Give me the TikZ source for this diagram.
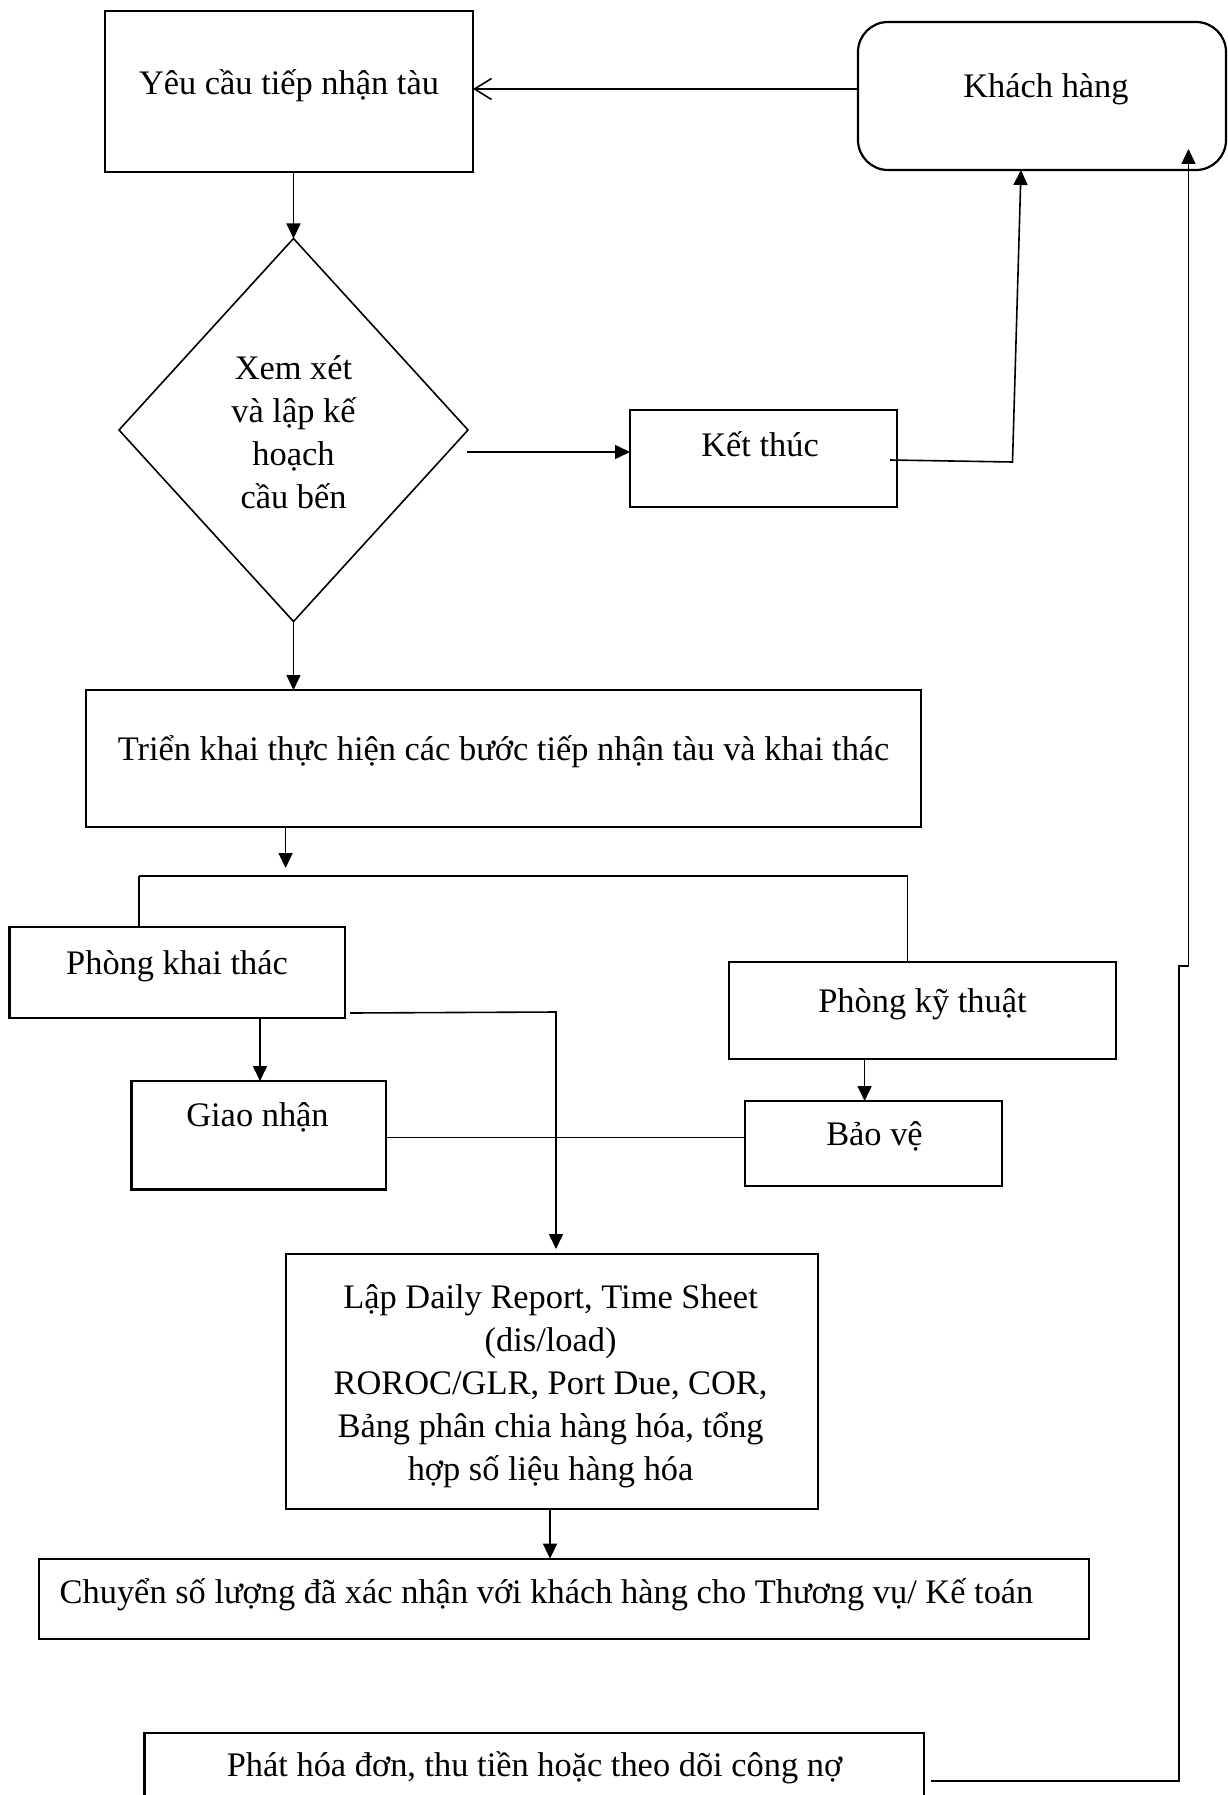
\documentclass[tikz,border=0pt]{standalone}
\usepackage{fontspec}
\setmainfont{Liberation Serif}
\usetikzlibrary{arrows.meta,shapes.geometric,calc}
\begin{document}
\begin{tikzpicture}[x=1pt,y=-1pt,
  every node/.style={font=\fontsize{34.4}{43}\selectfont},
  box/.style={draw,line width=2.2pt,inner sep=0pt,outer sep=0pt},
  roundbox/.style={box,rounded corners=30pt},
  decision/.style={draw,diamond,line width=1.6pt,inner sep=0pt,outer sep=0pt},
  lbl/.style={inner sep=0pt,align=center},
  link/.style={line width=1.6pt},
  flow/.style={link,-{Triangle[length=15pt,width=14pt]}},
  back/.style={link,-{Straight Barb[length=17pt,width=21pt,line width=1.6pt]}},
]
\useasboundingbox (0,0) rectangle (1227,1795);
\clip (0,0) rectangle (1227,1795);

% boxes
\node[box,minimum width=368pt,minimum height=161pt] (req) at (289,91.5) {};
\node[lbl] (req-t) at (289,85.5) {Yêu cầu tiếp nhận tàu};

\node[roundbox,minimum width=368pt,minimum height=148pt] (cust) at (1042,96) {};
\node[lbl] (cust-t) at (1046,89) {Khách hàng};

\node[decision,minimum width=349pt,minimum height=383pt] (plan) at (293.5,430) {};
\node[lbl] (plan-t) at (293.5,432) {Xem xét\\và lập kế\\hoạch\\cầu bến};

\node[box,minimum width=267pt,minimum height=97pt] (end) at (763.5,458.5) {};
\node[lbl] (end-t) at (760,444) {Kết thúc};

\node[box,minimum width=835pt,minimum height=137pt] (exec) at (503.5,758.5) {};
\node[lbl] (exec-t) at (503.6,751.5) {Triển khai thực hiện các bước tiếp nhận tàu và khai thác};

\node[box,minimum width=335.6pt,minimum height=91pt] (ops) at (177.2,972.5) {};
\node[lbl] (ops-t) at (177,966) {Phòng khai thác};

\node[box,minimum width=387pt,minimum height=96.6pt] (tech) at (922.5,1010.3) {};
\node[lbl] (tech-t) at (922.5,1004.5) {Phòng kỹ thuật};

\node[box,minimum width=254.5pt,minimum height=108.5pt] (deliv) at (258.75,1135.25) {};
\node[lbl] (deliv-t) at (257.5,1117) {Giao nhận};

\node[box,minimum width=257pt,minimum height=84.6pt] (guard) at (873.5,1143.3) {};
\node[lbl] (guard-t) at (874.5,1136) {Bảo vệ};

\node[box,minimum width=532pt,minimum height=255pt] (rep) at (551.65,1381.5) {};
\node[lbl] (rep-t) at (550.6,1386) {Lập Daily Report, Time Sheet\\(dis/load)\\ROROC/GLR, Port Due, COR,\\Bảng phân chia hàng hóa, tổng\\hợp số liệu hàng hóa};

\node[box,minimum width=1050pt,minimum height=80.4pt] (fwd) at (564,1598.8) {};
\node[lbl,anchor=west] (fwd-t) at (59.5,1594.5) {Chuyển số lượng đã xác nhận với khách hàng cho Thương vụ/ Kế toán};

\node[box,minimum width=779.5pt,minimum height=94pt] (inv) at (534.25,1780) {};
\node[lbl] (inv-t) at (534.5,1768) {Phát hóa đơn, thu tiền hoặc theo dõi công nợ};

% connectors
\draw[back] (cust.west |- 0,89) -- (req.east |- 0,89);
\draw[flow] (req.south -| plan.north) -- (plan.north);

\coordinate (p-out) at (467,452);
\draw[flow] (p-out) -- (p-out -| end.west);

\coordinate (e-out) at (890,460);
\coordinate (e-bend) at (1012.5,462);
\coordinate (e-up) at (1021,0);
\draw[flow] (e-out) -- (e-bend) -- (e-up |- cust.south);

\draw[flow] (plan.south) -- (plan.south |- exec.north);

\coordinate (bus-l) at (139,876);
\coordinate (bus-r) at (907.6,876);
\coordinate (x-down) at (285.6,868);
\draw[flow] (exec.south -| x-down) -- (x-down);
\draw[link] (bus-l) -- (bus-r);
\draw[link] (bus-l) -- (bus-l |- ops.north);
\draw[link] (bus-r) -- (bus-r |- tech.north);

\coordinate (o-down) at (260,0);
\draw[flow] (ops.south -| o-down) -- (o-down |- deliv.north);
\coordinate (t-down) at (864.6,0);
\draw[flow] (tech.south -| t-down) -- (t-down |- guard.north);

\draw[link] (deliv.east |- 0,1137.4) -- (guard.west |- 0,1137.4);

\coordinate (o-out) at (350,1013);
\coordinate (o-turn) at (556,1012);
\draw[flow] (o-out) -- (o-turn) -- ($(o-turn |- rep.north)+(0,-5)$);

\coordinate (r-down) at (550,0);
\draw[flow] (rep.south -| r-down) -- (r-down |- fwd.north);

\coordinate (i-out) at (931,1781);
\coordinate (i-c1) at (1178.7,1781);
\coordinate (i-c2) at (1178.7,966);
\coordinate (i-c3) at (1188.5,966);
\coordinate (i-top) at (1188.5,149);
\draw[flow] (i-out) -- (i-c1) -- (i-c2) -- (i-c3) -- (i-top);
\end{tikzpicture}
\end{document}
